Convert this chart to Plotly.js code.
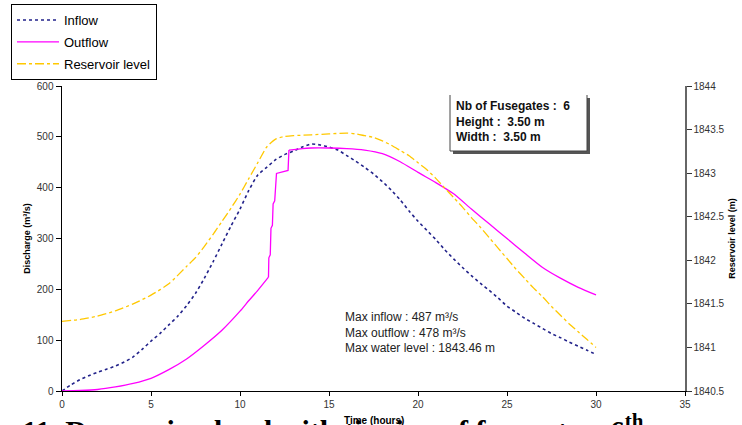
<!DOCTYPE html>
<html>
<head>
<meta charset="utf-8">
<script src="https://cdn.plot.ly/plotly-3.0.1.min.js"></script>
<style>html,body{margin:0;padding:0;background:#fff;}#chart{width:742px;height:425px;}</style>
</head>
<body>
<div id="chart"></div>
<script>
// ---- data ----
const inflowT = [0,0.5,1,1.5,2,2.5,3,3.5,4,4.5,5,5.5,6,6.5,7,7.5,8,8.5,9,9.5,10,10.5,11,11.5,12,12.5,13,13.5,14,14.5,15,15.5,16,16.5,17,17.5,18,18.5,19,19.5,20,20.5,21,21.5,22,22.5,23,23.5,24,24.5,25,25.5,26,26.5,27,27.5,28,28.5,29,29.5,30];
const inflowQ = [0,12,22,30,37,43,49,57,67,82,98,113,130,147,168,192,222,255,290,325,358,395,425,440,455,465,472,480,486,484,480,474,463,452,440,427,412,395,376,354,334,316,298,278,260,243,227,212,198,183,167,155,143,133,123,113,105,96,88,80,72];

const outflowT = [0,1,2,3,4,5,6,7,8,9,10,10.5,11,11.6,11.62,11.7,11.74,11.82,11.86,11.95,12.05,12.7,12.75,13.5,14,15,16,17,18,19,20,21,22,23,24,25,26,27,28,29,30];
const outflowQ = [0,1,3,8,15,25,42,63,90,120,157,178,198,224,262,268,320,326,368,374,428,434,474,477,478,478,477,474,467,451,430,410,388,358,329,300,271,243,222,204,189];

const levelT = [0,1,2,3,4,5,6,7,7.5,8,8.5,9,9.5,10,10.5,11,11.5,12,12.5,13,14,15,16,16.5,17,17.5,18,18.5,19,19.5,20,20.5,21,21.5,22,22.5,23,23.5,24,24.5,25,25.5,26,26.5,27,27.5,28,28.5,29,29.5,30];
const levelZ = [1841.30,1841.32,1841.36,1841.42,1841.50,1841.60,1841.73,1841.93,1842.03,1842.16,1842.30,1842.45,1842.60,1842.76,1842.94,1843.12,1843.30,1843.39,1843.42,1843.43,1843.44,1843.45,1843.46,1843.45,1843.43,1843.41,1843.37,1843.32,1843.26,1843.20,1843.12,1843.04,1842.94,1842.83,1842.72,1842.61,1842.49,1842.38,1842.26,1842.14,1842.02,1841.90,1841.79,1841.68,1841.58,1841.47,1841.37,1841.27,1841.18,1841.09,1841.00];

const leftTicks = [0,100,200,300,400,500,600];
const rightTicks = [1840.5,1841,1841.5,1842,1842.5,1843,1843.5,1844];
const rightTickText = ["1840.5","1841","1841.5","1842","1842.5","1843","1843.5","1844"];

const seriesNames = ["Inflow","Outflow","Reservoir level"];
const boxLines = ["Nb of Fusegates :  6","Height :  3.50 m","Width :  3.50 m"];
const maxLines = ["Max inflow : 487 m³/s","Max outflow : 478 m³/s","Max water level : 1843.46 m"];
const captionText = "11. Decreasing level with tipping of fusegates: 6<sup>th</sup>";

// ---- layout helpers (pixel -> paper) ----
const L=62, R=685, T=86, B=391;
const px = v => (v-L)/(R-L);
const py = v => (B-v)/(B-T);

// outflow split: smooth rise, linear gate steps, smooth recession
const s1 = 13, s2 = 22;
const outLine = {color:'#ff00ff', width:1.3};
const traces = [
  {x: inflowT, y: inflowQ, name: seriesNames[0], type:'scatter', mode:'lines', legendgroup:'a',
   line:{color:'#22228a', width:1.6, dash:'dot', shape:'spline', smoothing:0.6}},
  {x: outflowT.slice(0,s1+1), y: outflowQ.slice(0,s1+1), name: seriesNames[1], type:'scatter', mode:'lines', legendgroup:'b',
   line:Object.assign({shape:'spline', smoothing:0.6}, outLine)},
  {x: outflowT.slice(s1,s2+1), y: outflowQ.slice(s1,s2+1), name: seriesNames[1], type:'scatter', mode:'lines', legendgroup:'b',
   showlegend:false, line:outLine},
  {x: outflowT.slice(s2), y: outflowQ.slice(s2), name: seriesNames[1], type:'scatter', mode:'lines', legendgroup:'b',
   showlegend:false, line:Object.assign({shape:'spline', smoothing:0.6}, outLine)},
  {x: levelT, y: levelZ, name: seriesNames[2], type:'scatter', mode:'lines', yaxis:'y2', legendgroup:'c',
   line:{color:'#ffc800', width:1.3, dash:'dashdot', shape:'spline', smoothing:0.6}}
];

const axFont = {family:'Liberation Sans, Arial, sans-serif', size:10, color:'#333'};

const layout = {
  width:742, height:425,
  margin:{l:L, r:742-R, t:T, b:425-B, pad:0, autoexpand:false},
  paper_bgcolor:'#fff', plot_bgcolor:'#fff',
  font:{family:'Liberation Sans, Arial, sans-serif', color:'#000'},
  showlegend:true,
  legend:{x:px(11), y:py(4), xanchor:'left', yanchor:'top', bgcolor:'#fff',
          bordercolor:'#000', borderwidth:1, font:{size:13, color:'#000'},
          traceorder:'grouped', tracegroupgap:2, itemwidth:42},
  xaxis:{range:[0,35], dtick:5, tick0:0, showgrid:false, zeroline:false,
         showline:true, linecolor:'#000', linewidth:1, ticks:'outside', ticklen:4, tickcolor:'#000',
         tickfont:axFont},
  yaxis:{range:[0,600], tickmode:'array', tickvals:leftTicks, showgrid:false, zeroline:false,
         showline:true, linecolor:'#000', linewidth:1.5, ticks:'outside', ticklen:5, tickcolor:'#000',
         tickfont:axFont,
         title:{text:'<b>Discharge (m³/s)</b>', font:{size:9, color:'#000'}, standoff:4}},
  yaxis2:{range:[1840.5,1844], tickmode:'array', tickvals:rightTicks, ticktext:rightTickText,
          overlaying:'y', side:'right',
          showgrid:false, zeroline:false, showline:true, linecolor:'#666', linewidth:1.5,
          ticks:'outside', ticklen:5, tickcolor:'#333', tickfont:axFont,
          title:{text:'<b>Reservoir level (m)</b>', font:{size:9, color:'#000'}, standoff:5}},
  shapes:[
    {type:'rect', xref:'paper', yref:'paper', x0:px(453), x1:px(590), y0:py(154), y1:py(98),
     fillcolor:'#555', line:{width:0}},
    {type:'rect', xref:'paper', yref:'paper', x0:px(450), x1:px(587), y0:py(151), y1:py(95),
     fillcolor:'#fff', line:{width:0}},
    {type:'path', xref:'paper', yref:'paper',
     path:`M ${px(450)},${py(95)} L ${px(450)},${py(151)} L ${px(587)},${py(151)} L ${px(587)},${py(95)}`,
     line:{color:'#444', width:1}}
  ],
  annotations:[
    {xref:'paper', yref:'paper', x:px(454), y:py(121), xanchor:'left', yanchor:'middle', align:'left',
     showarrow:false, text:'<b>'+boxLines.join('<br>')+'</b>', font:{size:12, color:'#111'}},
    {xref:'paper', yref:'paper', x:px(343), y:py(332), xanchor:'left', yanchor:'middle', align:'left',
     showarrow:false, text:maxLines.join('<br>'), font:{size:12, color:'#222'}},
    {xref:'paper', yref:'paper', x:px(20), y:py(449), xanchor:'left', yanchor:'bottom', align:'left',
     showarrow:false, text:'<b>'+captionText+'</b>',
     font:{family:'Liberation Serif, Times New Roman, serif', size:30, color:'#000'}},
    {xref:'paper', yref:'paper', x:px(374), y:py(420), xanchor:'center', yanchor:'middle',
     showarrow:false, text:'<b>Time (hours)</b>', font:{size:10, color:'#000'}}
  ]
};

Plotly.newPlot('chart', traces, layout, {displayModeBar:false, staticPlot:true});
</script>
</body>
</html>
